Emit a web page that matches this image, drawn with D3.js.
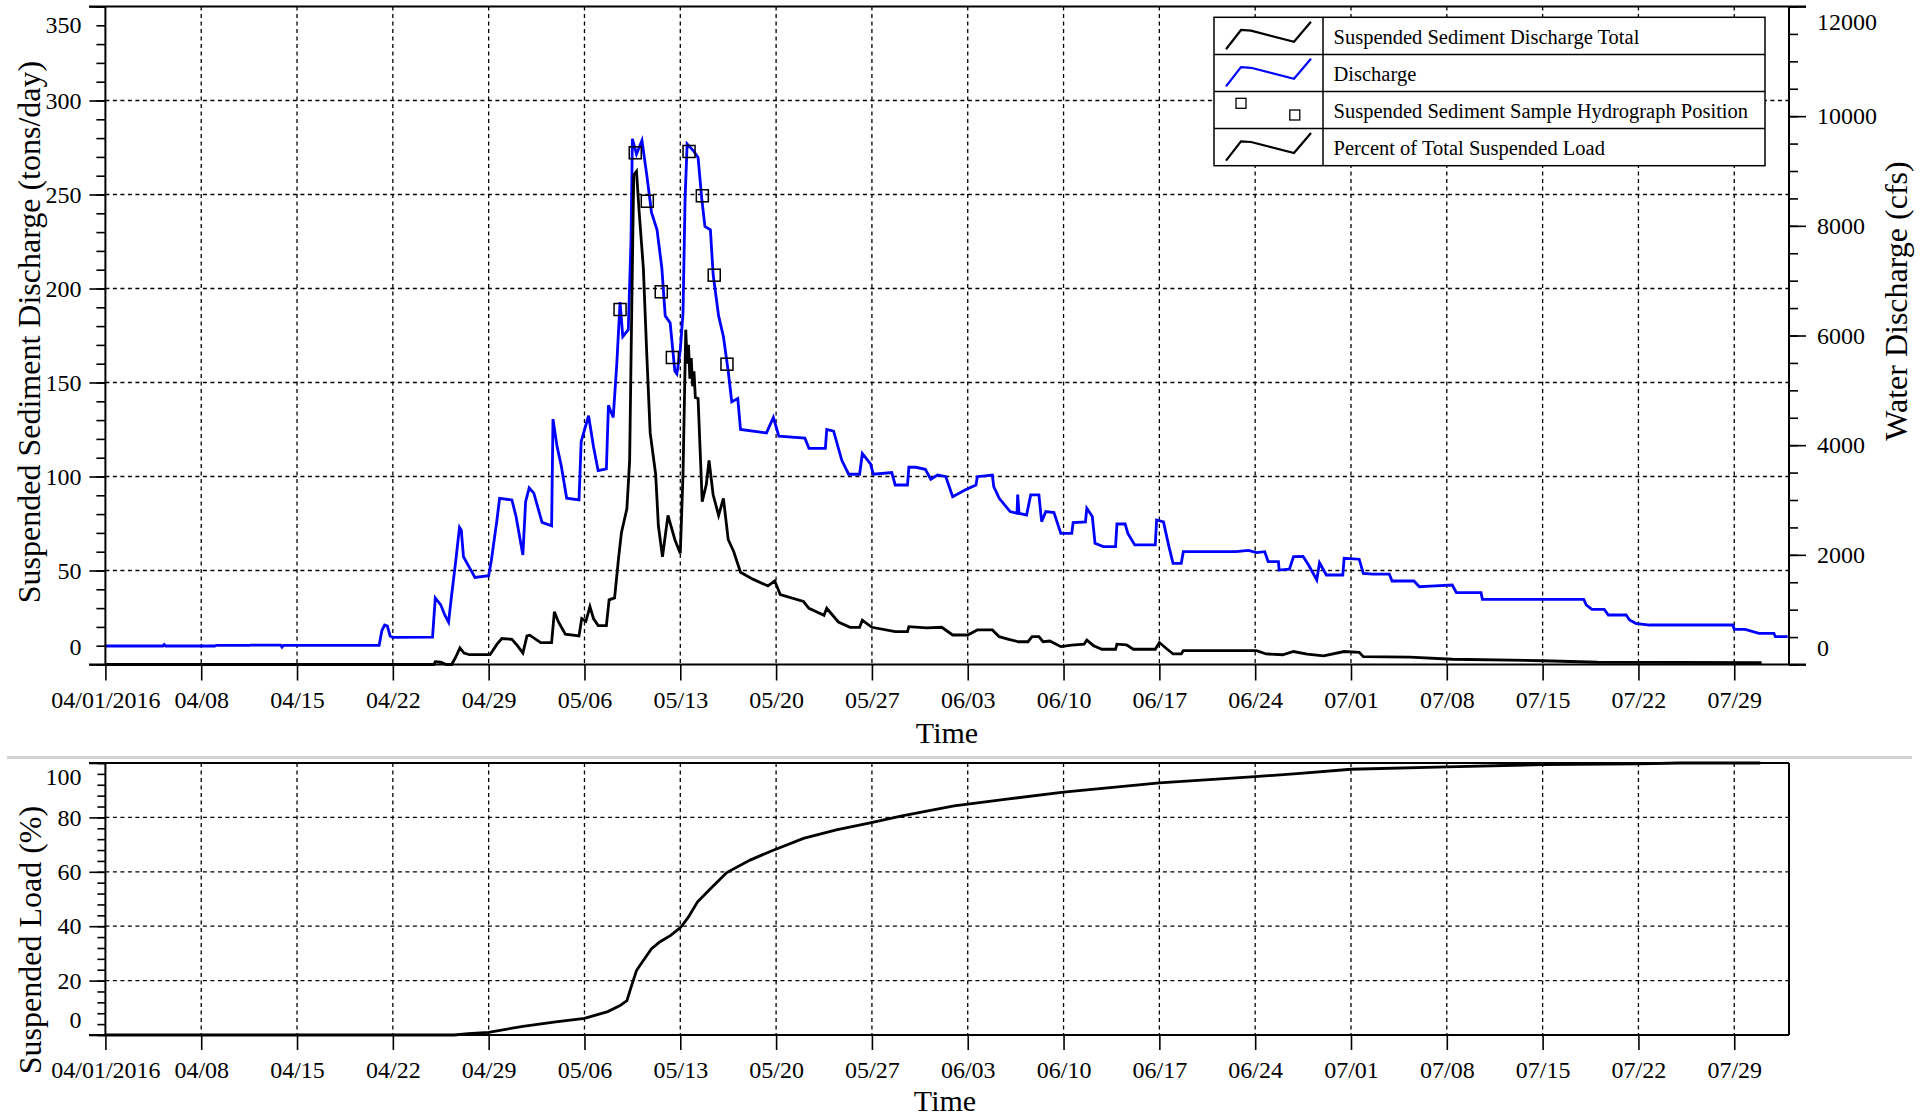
<!DOCTYPE html>
<html><head><meta charset="utf-8">
<script src="https://cdn.jsdelivr.net/npm/d3@7/dist/d3.min.js"></script>
<style>
html,body{margin:0;padding:0;background:#fff;}
svg{display:block;font-family:"Liberation Serif","Times New Roman",serif;}
svg text{font-family:"Liberation Serif","Times New Roman",serif;}
</style></head><body>
<svg id="c" width="1927" height="1117"></svg>
<script>
// ---------- DATA (day offset from 2016-04-01, value) ----------
const tickLabels = ["04/01/2016","04/08","04/15","04/22","04/29","05/06","05/13","05/20","05/27","06/03","06/10","06/17","06/24","07/01","07/08","07/15","07/22","07/29"];
const tickDays = [0,7,14,21,28,35,42,49,56,63,70,77,84,91,98,105,112,119];

const sedTicks = [0,50,100,150,200,250,300,350];
const cfsTicks = [0,2000,4000,6000,8000,10000,12000];
const pctTicks = [0,20,40,60,80,100];

const legendLabels = ["Suspended Sediment Discharge Total","Discharge","Suspended Sediment Sample Hydrograph Position","Percent of Total Suspended Load"];

// Water discharge (cfs)
const discharge = [[0,337],[4.2,337],[4.3,365],[4.4,337],[8,337],[8.1,350],[10.5,350],[10.6,355],[12.8,355],[12.9,318],[13.0,350],[20.0,350],[20.2,620],[20.4,720],[20.6,700],[20.8,520],[21,496],[23.9,500],
[24.1,1214],[24.5,1088],[24.8,900],[25.07,774],[25.3,1276],[25.6,1900],[25.87,2500],[26.0,2450],[26.16,1965],[26.65,1745],[27.0,1588],[28.0,1620],[28.2,1903],[28.6,2625],[28.8,3032],[29.7,3000],[30.0,2700],[30.5,1997],[30.7,2970],[30.96,3220],[31.3,3126],[31.9,2592],[32.6,2530],[32.7,4475],[33.0,3973],[33.3,3629],[33.7,3032],[34.6,3000],[34.76,4067],[35.3,4537],[35.66,3973],[36.0,3535],[36.6,3566],[36.75,4726],[37.1,4506],[37.36,5479],[37.48,6044],[37.6,6608],[37.8,5981],[38.2,6106],[38.4,7739],[38.5,9588],[38.8,9307],[39.2,9557],[39.55,8929],[39.9,8240],[40.3,7927],[40.65,7237],[40.9,6357],[41.26,6231],[41.6,5353],[41.75,5300],[42.0,5730],[42.2,6419],[42.35,8490],[42.5,9495],[42.96,9369],[43.3,9245],[43.57,8490],[43.8,7990],[44.2,7927],[44.4,7112],[44.8,6357],[45.15,5981],[45.5,5353],[45.76,4790],[46.2,4852],[46.4,4286],[48.3,4224],[48.8,4506],[49.2,4163],[51.1,4130],[51.4,3943],[52.6,3943],[52.7,4286],[53.2,4255],[53.8,3724],[54.3,3470],[55.1,3470],[55.3,3847],[55.9,3659],[56.1,3470],[57.45,3501],[57.7,3274],
[58.6,3274],[58.7,3597],[59.2,3597],[59.9,3560],[60.3,3378],[60.8,3456],[61.4,3425],[61.9,3061],[62.8,3183],[63.6,3274],[63.7,3425],[64.8,3456],[64.9,3243],[65.3,3031],[66.1,2788],[66.6,2757],[66.65,3100],[66.75,2757],[67.3,2727],[67.6,3092],[68.2,3092],[68.4,2605],[68.7,2788],[69.3,2770],[69.8,2392],[70.6,2392],[70.7,2587],[71.6,2600],[71.7,2849],[72.1,2700],[72.3,2210],[72.9,2150],[73.8,2150],[73.9,2562],[74.5,2562],[74.7,2392],[75.2,2180],[76.7,2180],[76.8,2636],[77.3,2600],[77.7,2150],[78.0,1845],[78.6,1845],[78.75,2057],[79.7,2057],[82.6,2060],[83.5,2080],[84.1,2040],[84.7,2057],[84.95,1875],[85.7,1875],[85.75,1723],[86.5,1740],[86.8,1966],[87.5,1970],[87.9,1815],[88.5,1542],[88.7,1856],[89.2,1632],[90.4,1632],[90.5,1937],[91.6,1920],[91.9,1663],[92.6,1650],[93.8,1650],[94.0,1523],[95.6,1523],
[96.0,1419],[96.8,1430],[98.4,1450],[98.7,1310],[100.5,1310],[100.6,1189],[108.0,1189],[108.2,1085],[108.6,1007],[109.5,1007],[109.8,903],[111.1,903],[111.35,812],[111.8,751],[112.8,720],[118.9,720],[119.0,642],[119.8,640],[120.8,569],[121.9,569],[122.0,507],[122.9,507]];

// Suspended sediment discharge (tons/day)
const sediment = [[0,0],[24.0,0],[24.1,1.5],[24.5,1.2],[24.9,0],[25.3,0],[25.6,4],[25.9,8.8],[26.2,6.1],[26.6,5.2],[28.1,5.2],[28.6,10.7],[28.96,13.8],[29.7,13.4],[30.1,10],[30.5,6.1],[30.8,15.2],[31.0,15.6],[31.8,11.6],[32.6,11.6],[32.8,28],[33.1,22.6],[33.6,16.1],[34.6,15.2],[34.8,24.4],[35.1,23],[35.4,30.8],[35.66,24.4],[36.0,20.7],[36.6,20.7],[36.8,34.4],[37.2,35.4],[37.5,57.3],[37.7,70.1],[38.1,82.9],[38.3,108.6],[38.46,192.7],[38.6,260.4],[38.8,262.3],[39.0,240.3],[39.3,211],[39.55,165.3],[39.8,123.2],[40.2,101.2],[40.4,73.8],[40.7,57.3],[41.1,79.3],[41.6,66.5],[42.0,59.1],[42.2,101.2],[42.4,178.1],[42.5,160],[42.6,170],[42.7,152],[42.8,163],[42.9,148],[43.0,156],[43.1,142],[43.3,141.5],[43.5,104.9],[43.6,86.6],[43.9,95.7],[44.1,108.6],[44.4,90.3],[44.8,79.3],[45.15,88.4],[45.5,66.5],[45.9,60.1],[46.4,49.1],[47.3,45.4],[48.4,41.8],[48.9,44.5],[49.3,37.2],[51.0,33.5],[51.4,29.9],[52.5,26.2],[52.7,29.9],[53.55,22.6],[54.4,19.8],[55.1,19.8],[55.3,23.5],[56.0,19.8],[57.7,17.5],[58.6,17.5],[58.7,20.1],[60.0,19.5],[61.1,19.8],[61.9,15.7],[63.0,15.7],[63.7,18.4],[64.8,18.4],[65.3,14.8],[66.0,13.4],[66.7,12.1],[67.4,12.1],[67.7,14.8],[68.2,14.8],[68.5,12.1],[69.0,12.5],[69.8,9.5],[70.6,10.3],[71.5,10.8],[71.7,13.0],[72.2,10],[72.8,8.1],[73.8,8.1],[73.9,10.8],[74.6,10.5],[75.1,8.1],[76.7,8.1],[77.0,11.7],[77.6,8],[78.0,5.6],[78.6,5.6],[78.75,7.4],[84.1,7.4],[84.8,5.6],[86.0,5.2],[86.8,6.9],[87.8,5.5],[89.0,4.6],[90.5,6.9],[91.6,6.5],[91.9,4.2],[95.3,3.9],[98.4,2.8],[105,2.0],[109,1.2],[121,1.0]];

// Sample hydrograph positions (cfs)
const samples = [[37.6,6474],[38.71,9332],[39.59,8449],[40.61,6797],[41.42,5599],[42.64,9356],[43.61,8548],[44.48,7100],[45.41,5477]];

// Percent of total suspended load
const percent = [[0,0],[25.5,0],[26.5,0.5],[28.0,1.0],[30.5,3.2],[32.9,4.8],[35.0,6.1],[36.7,8.6],[37.6,10.8],[38.1,12.6],[38.4,17.5],[38.8,23.7],[39.3,27.4],[39.9,31.7],[40.5,34.2],[41.3,36.6],[42.05,39.7],[42.6,43.4],[43.25,48.9],[44.2,53.8],[45.4,59.7],[47.1,64.3],[48.7,67.75],[51.0,72.3],[53.4,75.4],[55.7,77.8],[58.2,80.6],[62.0,84.2],[66,86.8],[70,89.3],[77,92.7],[84,95.0],[87.3,96.2],[91,97.7],[98,98.6],[105,99.4],[112,99.7],[115,100],[120.9,100]];

// ---------- CHART ----------
const svg = d3.select("#c");
const FONT = "'Liberation Serif','Times New Roman',serif";
const t0 = Date.UTC(2016,3,1);
const toDate = d => new Date(t0 + d*864e5);

const L = 105.4, R = 1789;
const x = d3.scaleUtc().domain([toDate(0), toDate(123)]).range([L, R]);
const yS = d3.scaleLinear().domain([0,350]).range([664.5,6.5]);
const yQ = d3.scaleLinear().domain([0,12000]).range([664.5,6.5]);
const yP = d3.scaleLinear().domain([0,100]).range([1035,763]);
const tickDates = tickDays.map(toDate);

function grid(g, yScale, yVals, top, bottom){
  g.selectAll(".gv").data(tickDates.slice(1)).join("line")
    .attr("x1",d=>x(d)).attr("x2",d=>x(d)).attr("y1",top).attr("y2",bottom);
  g.selectAll(".gh").data(yVals).join("line").attr("class","gh")
    .attr("x1",L).attr("x2",R).attr("y1",d=>yScale(d)).attr("y2",d=>yScale(d));
  g.selectAll("line").attr("stroke","#000").attr("stroke-width",1.3).attr("stroke-dasharray","4,3.5");
}

grid(svg.append("g"), yS, [50,100,150,200,250,300], 6.5, 664.5);
grid(svg.append("g"), yP, [20,40,60,80], 763, 1035);

const lineQ = d3.line().x(d=>x(toDate(d[0]))).y(d=>yQ(d[1]));
const lineS = d3.line().x(d=>x(toDate(d[0]))).y(d=>yS(d[1]));
const lineP = d3.line().x(d=>x(toDate(d[0]))).y(d=>yP(d[1]));

svg.append("path").datum(discharge).attr("d",lineQ).attr("fill","none").attr("stroke","#0000ff").attr("stroke-width",2.8);
svg.append("path").datum(sediment).attr("d",lineS).attr("fill","none").attr("stroke","#000").attr("stroke-width",2.8);
svg.selectAll(".smp").data(samples).join("rect").attr("class","smp")
  .attr("x",d=>x(toDate(d[0]))-6).attr("y",d=>yQ(d[1])-6).attr("width",12).attr("height",12)
  .attr("fill","none").attr("stroke","#000").attr("stroke-width",1.5);
svg.append("path").datum(percent).attr("d",lineP).attr("fill","none").attr("stroke","#000").attr("stroke-width",2.8);

function hline(y,x1,x2){svg.append("line").attr("x1",x1).attr("x2",x2).attr("y1",y).attr("y2",y).attr("stroke","#000").attr("stroke-width",2);}
function vline(xx,y1,y2){svg.append("line").attr("x1",xx).attr("x2",xx).attr("y1",y1).attr("y2",y2).attr("stroke","#000").attr("stroke-width",2);}
hline(6.5,89,1806); hline(664.5,89,1806); vline(L,6.5,664.5); vline(R,6.5,664.5);
hline(763,89,R); hline(1035,89,R); vline(L,763,1035); vline(R,763,1035);

svg.append("rect").attr("x",7).attr("y",756).attr("width",1905).attr("height",3).attr("fill","#d4d4d4");

function styleAxis(g){
  g.attr("font-family",FONT).attr("font-size",24);
  g.select(".domain").remove();
  g.selectAll("line").attr("stroke","#000").attr("stroke-width",1.6);
  g.selectAll("text").attr("fill","#000").style("font-size","24px").style("font-family",FONT);
}
const xa1 = svg.append("g").attr("transform","translate(0,664.5)")
  .call(d3.axisBottom(x).tickValues(tickDates).tickFormat((d,i)=>tickLabels[i]).tickSize(16));
styleAxis(xa1); xa1.selectAll("text").attr("y",43.5).attr("dy",0);
const xa2 = svg.append("g").attr("transform","translate(0,1035)")
  .call(d3.axisBottom(x).tickValues(tickDates).tickFormat((d,i)=>tickLabels[i]).tickSize(15));
styleAxis(xa2); xa2.selectAll("text").attr("y",43).attr("dy",0);

const fmt = d3.format("d");
const la1m = svg.append("g").attr("transform",`translate(${L},0)`).call(d3.axisLeft(yS).tickValues(d3.range(0,351,10)).tickSize(9).tickFormat(""));
styleAxis(la1m);
const la1 = svg.append("g").attr("transform",`translate(${L},0)`).call(d3.axisLeft(yS).tickValues(sedTicks).tickSize(16).tickPadding(8).tickFormat(fmt));
styleAxis(la1);
la1.selectAll(".tick").filter(d=>d===350).select("text").attr("y",18.5);
la1.selectAll(".tick").filter(d=>d===0).select("text").attr("y",-18);

const ra1m = svg.append("g").attr("transform",`translate(${R},0)`).call(d3.axisRight(yQ).tickValues(d3.range(0,12001,500)).tickSize(9).tickFormat(""));
styleAxis(ra1m);
const ra1 = svg.append("g").attr("transform",`translate(${R},0)`).call(d3.axisRight(yQ).tickValues(cfsTicks).tickSize(17).tickPadding(11).tickFormat(fmt));
styleAxis(ra1);
ra1.selectAll(".tick").filter(d=>d===12000).select("text").attr("y",15);
ra1.selectAll(".tick").filter(d=>d===0).select("text").attr("y",-16.5);

const la2m = svg.append("g").attr("transform",`translate(${L},0)`).call(d3.axisLeft(yP).tickValues(d3.range(0,101,4)).tickSize(8).tickFormat(""));
styleAxis(la2m);
const la2 = svg.append("g").attr("transform",`translate(${L},0)`).call(d3.axisLeft(yP).tickValues(pctTicks).tickSize(16).tickPadding(8).tickFormat(fmt));
styleAxis(la2);
la2.selectAll(".tick").filter(d=>d===100).select("text").attr("y",14);
la2.selectAll(".tick").filter(d=>d===0).select("text").attr("y",-15);

function title(txt,xx,yy,rot,size){
  svg.append("text").attr("transform",`translate(${xx},${yy}) rotate(${rot})`)
    .attr("text-anchor","middle").attr("dominant-baseline","central")
    .style("font-size",size+"px").style("font-family",FONT).attr("fill","#000").text(txt);
}
title("Suspended Sediment Discharge (tons/day)",29,332,-90,32);
title("Water Discharge (cfs)",1896,301,-90,32);
title("Suspended Load (%)",30,940,-90,32);
svg.append("text").attr("x",947).attr("y",743).attr("text-anchor","middle").style("font-size","30px").style("font-family",FONT).text("Time");
svg.append("text").attr("x",945).attr("y",1111).attr("text-anchor","middle").style("font-size","30px").style("font-family",FONT).text("Time");

// legend
const lg = svg.append("g");
const lx = 1214, ly = 17.3, lw = 551, rh = 37.1, cx = 1323;
lg.append("rect").attr("x",lx).attr("y",ly).attr("width",lw).attr("height",rh*4).attr("fill","#fff").attr("stroke","#000").attr("stroke-width",1.5);
for(let i=1;i<4;i++) lg.append("line").attr("x1",lx).attr("x2",lx+lw).attr("y1",ly+rh*i).attr("y2",ly+rh*i).attr("stroke","#000").attr("stroke-width",1.5);
lg.append("line").attr("x1",cx).attr("x2",cx).attr("y1",ly).attr("y2",ly+rh*4).attr("stroke","#000").attr("stroke-width",1.5);
const icon = [[12,32],[27,12.7],[37,13.4],[80,24.4],[97,4.4]];
const iconColors = ["#000","#0000ff",null,"#000"];
legendLabels.forEach((t,i)=>{
  const top = ly + rh*i;
  if(iconColors[i]){
    lg.append("path").attr("d",d3.line()(icon.map(p=>[lx+p[0], top+p[1]]))).attr("fill","none").attr("stroke",iconColors[i]).attr("stroke-width",2.2);
  } else {
    lg.append("rect").attr("x",lx+22).attr("y",top+6.8).attr("width",10).attr("height",10).attr("fill","none").attr("stroke","#000").attr("stroke-width",1.3);
    lg.append("rect").attr("x",lx+75.8).attr("y",top+18.5).attr("width",10).attr("height",10).attr("fill","none").attr("stroke","#000").attr("stroke-width",1.3);
  }
  lg.append("text").attr("x",1333.5).attr("y",top+rh/2+1).attr("dominant-baseline","central")
    .style("font-size","20.5px").style("font-family",FONT).attr("fill","#000").text(t);
});
</script>
</body></html>
